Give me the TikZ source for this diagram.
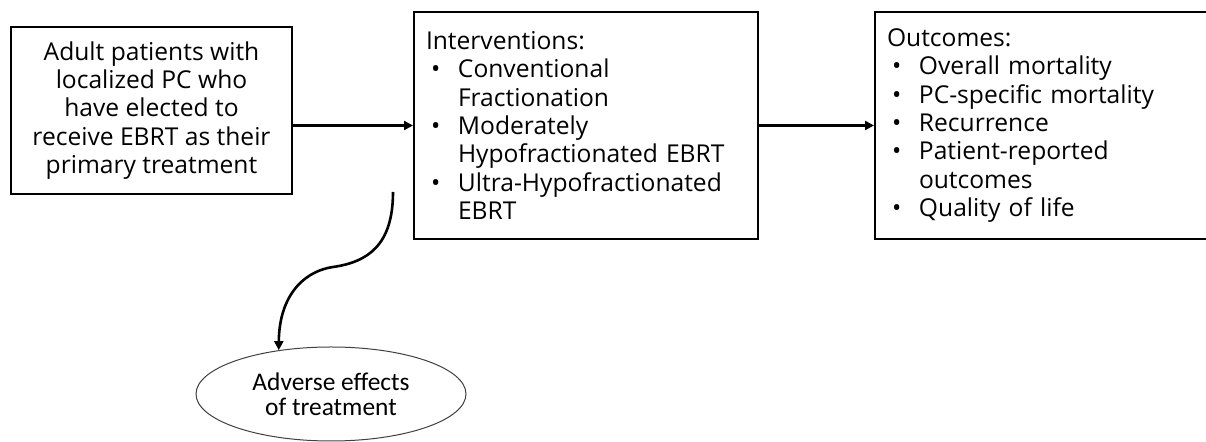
\documentclass[tikz,border=0pt]{standalone}
\usepackage{fontspec}
\setmainfont{Open Sans}
\newfontfamily\ellfont{Carlito}
\usetikzlibrary{arrows.meta,shapes.geometric}
\newcommand{\nl}{\hfil\break}
\newcommand{\bitem}[1]{\par\hangindent=16pt\hangafter=1\noindent\makebox[16pt][l]{\hspace{2.5pt}\textbullet}#1}

\begin{document}
\begin{tikzpicture}[x=0.5pt,y=-0.5pt,
    box/.style={draw,line width=1pt,inner sep=0pt,minimum width=172pt,minimum height=113.5pt,
      font=\fontsize{12.3}{14.15}\selectfont},
    listbox/.style={box,text width=160pt},
    arr/.style={line width=1.3pt,-{Triangle[length=4.5pt,width=4.5pt]}}]
  \useasboundingbox (0,0) rectangle (1206,442);
  \clip (0,0) rectangle (1206,442);
  \node[box,minimum width=140.5pt,minimum height=83.5pt,align=center] (population) at (151.5,110.5)
    {Adult patients with\\localized PC who\\have elected to\\receive EBRT as their\\primary treatment};
  \node[listbox] (interventions) at (586,125.5)
    {\noindent Interventions:
     \bitem{Conventional\nl Fractionation}
     \bitem{Moderately\nl Hypofractionated EBRT}
     \bitem{Ultra-Hypofractionated\nl EBRT}\par};
  \node[listbox] (outcomes) at (1047,125.5)
    {\noindent Outcomes:
     \bitem{Overall mortality}
     \bitem{PC-specific mortality}
     \bitem{Recurrence}
     \bitem{Patient-reported\nl outcomes}
     \bitem{Quality of life}\par};
  \node[ellipse,draw=black!75,line width=0.5pt,inner sep=0pt,minimum width=135pt,minimum height=47pt,
    align=center,font=\ellfont\fontsize{12.7}{12.5}\selectfont] (adverse) at (331,394)
    {Adverse effects\\of treatment};
  % connectors
  \draw[arr] (population.east |- interventions.west) -- (interventions.west);
  \draw[arr] (interventions.east) -- (outcomes.west);
  \coordinate (harm) at (393,192);
  \draw[arr] (harm) .. controls (393,245) and (368,262) .. (333,267)
    .. controls (300,272) and (279,300) .. (adverse.140);
\end{tikzpicture}
\end{document}
